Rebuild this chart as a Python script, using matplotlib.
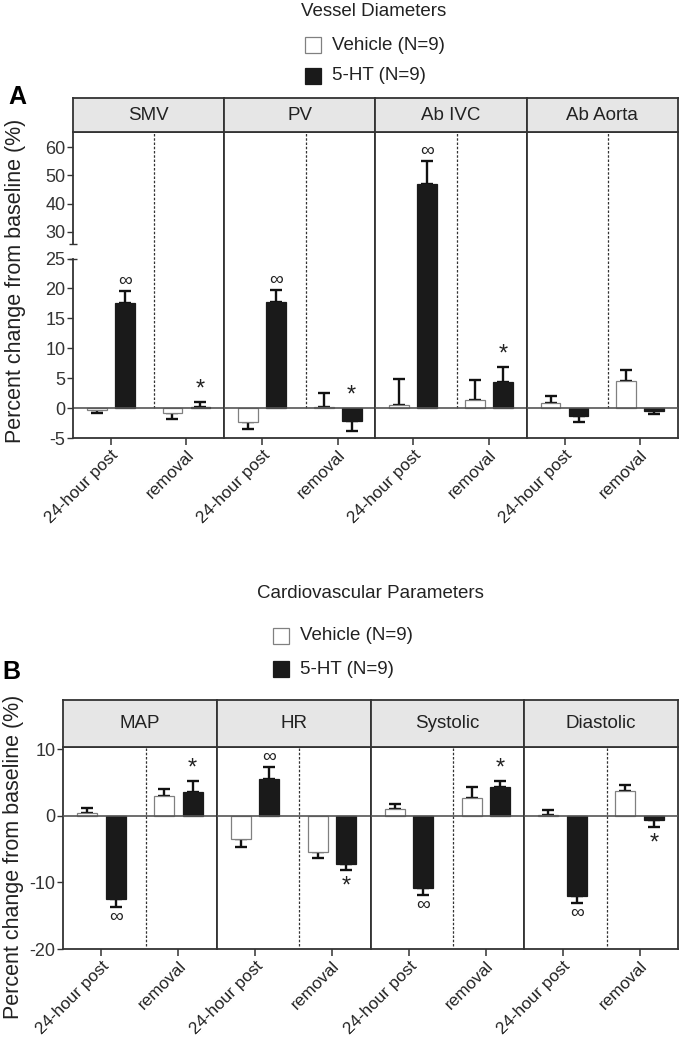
import numpy as np
import matplotlib
matplotlib.use("Agg")
import matplotlib.pyplot as plt
from matplotlib.patches import Rectangle

plt.rcParams['font.family'] = ['Liberation Sans', 'DejaVu Sans']
plt.rcParams['axes.unicode_minus'] = False

W, H = 681, 1038

# ---- data ----
timepoints = ["24-hour post", "removal"]
legend_labels = ["Vehicle (N=9)", "5-HT (N=9)"]

vessels = ["SMV", "PV", "Ab IVC", "Ab Aorta"]
# each row: [24-hour post, removal]
vessel_vehicle_mean = [[-0.3, -0.9], [-2.4, 0.1], [0.5, 1.3], [0.9, 4.5]]
vessel_vehicle_sem = [[0.6, 0.9], [1.1, 2.4], [4.3, 3.4], [1.1, 1.8]]
vessel_5ht_mean = [[17.5, 0.1], [17.8, -2.1], [47.0, 4.3], [-1.4, -0.5]]
vessel_5ht_sem = [[2.0, 0.9], [1.9, 1.8], [8.0, 2.6], [0.9, 0.5]]
vessel_5ht_marks = [["∞", "*"], ["∞", "*"], ["∞", "*"], ["", ""]]
vessel_yticks = [-5, 0, 5, 10, 15, 20, 25, 30, 40, 50, 60]

cv_params = ["MAP", "HR", "Systolic", "Diastolic"]
cv_vehicle_mean = [[0.5, 3.0], [-3.5, -5.4], [1.1, 2.7], [0.2, 3.8]]
cv_vehicle_sem = [[0.7, 1.1], [1.2, 1.0], [0.7, 1.6], [0.65, 0.9]]
cv_5ht_mean = [[-12.5, 3.6], [5.5, -7.3], [-10.8, 4.3], [-12.0, -0.6]]
cv_5ht_sem = [[1.2, 1.7], [1.8, 0.8], [1.1, 1.0], [1.1, 1.0]]
cv_5ht_marks = [["∞", "*"], ["∞", "*"], ["∞", "*"], ["∞", "*"]]
cv_yticks = [-20, -10, 0, 10]

FRAME = '#333333'

# broken y axis for panel A: 25 and below linear, above compressed
GAP, RATIO = 2.09, 0.4717


def brk_fwd(y):
    y = np.asarray(y, float)
    return np.where(y <= 25, y, 25 + GAP + (y - 25) * RATIO)


def brk_inv(f):
    f = np.asarray(f, float)
    return np.where(f <= 25, f, 25 + np.maximum(f - 25 - GAP, 0) / RATIO)


def fx(px):
    return px / W


def fy(py):
    return 1 - py / H


def one_sided(m, s):
    m = np.asarray(m, float)
    s = np.asarray(s, float)
    return [np.where(m < 0, s, 0), np.where(m >= 0, s, 0)]


def draw_block(fig, left, right, hdr_top, top, bottom, names,
               veh_m, veh_s, ht_m, ht_s, marks, ylim, yticks,
               broken, mark_mode, div_bottom):
    pw = (right - left) / 4
    centers = np.array([1.0, 3.0])
    veh_x = centers - 0.37
    ht_x = centers + 0.37
    for i, name in enumerate(names):
        x0 = left + i * pw
        ax = fig.add_axes([fx(x0), fy(bottom), pw / W, (bottom - top) / H])
        hx = fig.add_axes([fx(x0), fy(top), pw / W, (top - hdr_top) / H])
        hx.set_facecolor('#e6e6e6')
        hx.set_xticks([])
        hx.set_yticks([])
        for sp in hx.spines.values():
            sp.set_color(FRAME)
            sp.set_linewidth(1.3)
        hx.text(0.5, 0.5, name, ha='center', va='center', fontsize=13.5,
                color='#222222', transform=hx.transAxes)

        if broken:
            ax.set_yscale('function', functions=(brk_fwd, brk_inv))
        ax.set_xlim(0, 4)
        ax.set_ylim(*ylim)

        ax.bar(veh_x, veh_m[i], 0.52, color='white', edgecolor='#808080',
               linewidth=0.9, zorder=3)
        ax.bar(ht_x, ht_m[i], 0.52, color='#1a1a1a', edgecolor='#1a1a1a',
               linewidth=0.9, zorder=3)
        ax.errorbar(veh_x, veh_m[i], yerr=one_sided(veh_m[i], veh_s[i]),
                    fmt='none', ecolor='#111111', elinewidth=1.7,
                    capsize=4.3, capthick=1.7, zorder=2)
        ax.errorbar(ht_x, ht_m[i], yerr=one_sided(ht_m[i], ht_s[i]),
                    fmt='none', ecolor='#111111', elinewidth=1.7,
                    capsize=4.3, capthick=1.7, zorder=2)
        ax.axhline(0, color='#555555', lw=1.2, zorder=4)
        ax.vlines(2.15, div_bottom, ylim[1], colors=FRAME, lw=0.9,
                  linestyles=(0, (2, 1.4)), zorder=1)

        for j in range(2):
            mk = marks[i][j]
            if not mk:
                continue
            m, s = ht_m[i][j], ht_s[i][j]
            if mark_mode == 'above' or m >= 0:
                yb = max(m + s, 0) if m >= 0 else 0
                off, va = 1, 'bottom'
            else:
                yb = m - s
                off, va = (-1, 'top') if mk == '∞' else (-4, 'top')
            fs = 14 if mk == '∞' else 17
            ax.annotate(mk, (ht_x[j], yb), xytext=(0, off),
                        textcoords='offset points', ha='center', va=va,
                        fontsize=fs, color='#222222', annotation_clip=False,
                        zorder=5)

        for sp in ax.spines.values():
            sp.set_color(FRAME)
            sp.set_linewidth(1.3)
        ax.set_xticks(centers)
        ax.set_xticklabels(timepoints, rotation=45, ha='right',
                           rotation_mode='anchor', fontsize=12.3,
                           color='#222222')
        ax.tick_params(axis='x', direction='out', length=5, width=1.1,
                       color=FRAME, pad=1.5)
        if i == 0:
            ax.set_yticks(yticks)
            ax.set_yticklabels([str(t) for t in yticks])
            ax.tick_params(axis='y', direction='out', length=4, width=1.0,
                           color=FRAME, labelsize=13, labelcolor='#333333',
                           pad=1.5)
            if broken:
                ax.spines['left'].set_visible(False)
                trans = ax.get_yaxis_transform()
                ax.plot([0, 0], [ylim[0], 25], transform=trans, color=FRAME,
                        lw=1.3, clip_on=False, zorder=6)
                ax.plot([0, 0], [25.87, ylim[1]], transform=trans,
                        color=FRAME, lw=1.3, clip_on=False, zorder=6)
                ax.plot([0, 0], [25, 25.87], transform=trans, color=FRAME,
                        lw=1.3, marker='_', markersize=6, ls='none',
                        clip_on=False, zorder=6)
        else:
            ax.tick_params(axis='y', left=False, labelleft=False)


def legend_block(fig, title, title_xy, sq_x, rows_y):
    fig.text(fx(title_xy[0]), fy(title_xy[1]), title, ha='center',
             va='center', fontsize=13.5, color='#222222')
    colors = ['white', '#1a1a1a']
    edges = ['#808080', '#1a1a1a']
    for lab, yc, fc, ec in zip(legend_labels, rows_y, colors, edges):
        fig.add_artist(Rectangle((fx(sq_x), fy(yc + 8)), 16 / W, 16 / H,
                                 transform=fig.transFigure, facecolor=fc,
                                 edgecolor=ec, lw=0.9))
        fig.text(fx(sq_x + 27), fy(yc), lab, ha='left', va='center',
                 fontsize=13.5, color='#222222')


fig = plt.figure(figsize=(W / 100, H / 100), dpi=100)

# panel A
legend_block(fig, "Vessel Diameters", (374, 11), 305, [45, 76])
fig.text(fx(17), fy(97), "A", fontsize=18, fontweight='bold',
         ha='center', va='center')
fig.text(fx(16), fy(281), "Percent change from baseline (%)", rotation=90,
         ha='center', va='center', fontsize=15.5, color='#222222')
draw_block(fig, 73, 678, 98, 132, 438, vessels,
           vessel_vehicle_mean, vessel_vehicle_sem,
           vessel_5ht_mean, vessel_5ht_sem, vessel_5ht_marks,
           (-5, 65.4), vessel_yticks, True, 'above', 0)

# panel B
legend_block(fig, "Cardiovascular Parameters", (370, 593), 273, [636, 669])
fig.text(fx(11), fy(672), "B", fontsize=18, fontweight='bold',
         ha='center', va='center')
fig.text(fx(14), fy(857), "Percent change from baseline (%)", rotation=90,
         ha='center', va='center', fontsize=15.5, color='#222222')
draw_block(fig, 63, 678, 700, 747, 949, cv_params,
           cv_vehicle_mean, cv_vehicle_sem,
           cv_5ht_mean, cv_5ht_sem, cv_5ht_marks,
           (-20, 10.35), cv_yticks, False, 'sign', -19.5)

fig.savefig("out.png", dpi=100)
